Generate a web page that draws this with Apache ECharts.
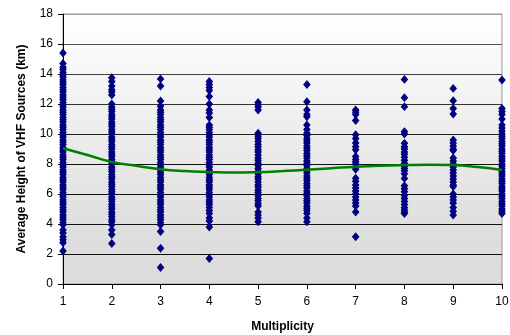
<!DOCTYPE html>
<html>
<head>
<meta charset="utf-8">
<script src="https://cdn.jsdelivr.net/npm/echarts@6/dist/echarts.min.js"></script>
<style>
  html, body { margin: 0; padding: 0; background: #fff; }
  #chart { width: 510px; height: 335px; }
</style>
</head>
<body>
<div id="chart"></div>
<script>
// multiplicity categories (x)
const multiplicity = [1, 2, 3, 4, 5, 6, 7, 8, 9, 10];

// average VHF source heights (km), read column by column
const h1 = [15.4, 14.7, 14.45, 14.3, 14.1, 13.95, 13.8, 13.6, 13.45, 13.3, 13.1, 12.95, 12.8, 12.6, 12.45, 12.3, 12.1, 11.95, 11.8, 11.6, 11.45, 11.3, 11.1, 10.95, 10.8, 10.6, 10.45, 10.3, 10.1, 9.95, 9.8, 9.6, 9.45, 9.3, 9.1, 8.95, 8.8, 8.6, 8.45, 8.3, 8.1, 7.95, 7.8, 7.6, 7.45, 7.3, 7.1, 6.95, 6.8, 6.6, 6.45, 6.3, 6.1, 5.95, 5.8, 5.6, 5.45, 5.3, 5.1, 4.95, 4.8, 4.6, 4.45, 4.3, 4.1, 3.95, 3.6, 3.4, 3.15, 2.95, 2.75, 2.2];
const h2 = [13.75, 13.5, 13.2, 12.95, 12.8, 12.6, 12.0, 11.8, 11.65, 11.5, 11.3, 11.15, 11.0, 10.8, 10.65, 10.5, 10.3, 10.15, 10.0, 9.8, 9.65, 9.5, 9.3, 9.15, 9.0, 8.8, 8.65, 8.5, 8.3, 8.15, 8.0, 7.8, 7.65, 7.5, 7.3, 7.15, 7.0, 6.8, 6.65, 6.5, 6.3, 6.15, 6.0, 5.8, 5.65, 5.5, 5.3, 5.15, 5.0, 4.8, 4.65, 4.5, 4.3, 4.15, 3.95, 3.6, 3.3, 2.7];
const h3 = [13.67, 13.2, 12.2, 11.85, 11.6, 11.45, 11.3, 11.1, 10.95, 10.8, 10.6, 10.45, 10.3, 10.1, 9.95, 9.8, 9.6, 9.45, 9.3, 9.1, 8.95, 8.8, 8.6, 8.45, 8.3, 8.1, 7.95, 7.8, 7.6, 7.45, 7.3, 7.1, 6.95, 6.8, 6.6, 6.45, 6.3, 6.1, 5.95, 5.8, 5.6, 5.45, 5.3, 5.1, 4.95, 4.8, 4.6, 4.45, 4.3, 4.1, 3.95, 3.5, 2.38, 1.1];
const h4 = [13.5, 13.3, 13.1, 12.9, 12.5, 12.0, 11.6, 11.4, 11.1, 10.6, 10.45, 10.3, 10.1, 9.95, 9.8, 9.6, 9.45, 9.3, 9.1, 8.95, 8.8, 8.6, 8.45, 8.3, 8.1, 7.95, 7.8, 7.6, 7.45, 7.3, 7.1, 6.95, 6.8, 6.6, 6.45, 6.3, 6.1, 5.95, 5.8, 5.6, 5.45, 5.3, 5.1, 4.9, 4.7, 4.4, 4.2, 3.8, 1.7];
const h5 = [12.1, 11.95, 11.8, 11.6, 10.05, 9.85, 9.7, 9.5, 9.3, 9.15, 8.95, 8.8, 8.6, 8.4, 8.25, 8.05, 7.9, 7.7, 7.5, 7.35, 7.15, 7.0, 6.8, 6.6, 6.45, 6.25, 6.1, 5.9, 5.7, 5.55, 5.35, 5.2, 4.8, 4.6, 4.4, 4.15];
const h6 = [13.3, 12.15, 11.6, 11.3, 11.15, 10.6, 10.3, 10.05, 9.9, 9.7, 9.55, 9.4, 9.2, 9.05, 8.9, 8.7, 8.55, 8.4, 8.2, 8.05, 7.9, 7.7, 7.55, 7.4, 7.2, 7.05, 6.9, 6.7, 6.55, 6.4, 6.2, 6.05, 5.9, 5.7, 5.55, 5.4, 5.2, 5.05, 4.9, 4.7, 4.4, 4.15];
const h7 = [11.6, 11.45, 11.3, 10.9, 9.95, 9.7, 9.4, 9.15, 8.95, 8.5, 8.3, 8.15, 8.0, 7.8, 7.65, 7.05, 6.85, 6.6, 6.4, 6.2, 6.0, 5.8, 5.6, 5.4, 5.2, 4.8, 3.15];
const h8 = [13.64, 12.42, 11.82, 10.16, 10.0, 9.38, 9.15, 9.0, 8.8, 8.65, 8.45, 8.25, 8.05, 7.85, 7.7, 7.55, 7.35, 7.04, 6.55, 6.35, 6.15, 5.9, 5.7, 5.5, 5.3, 5.1, 4.95, 4.8, 4.7];
const h9 = [13.04, 12.22, 11.7, 11.33, 9.6, 9.4, 9.2, 9.0, 8.9, 8.4, 8.2, 8.0, 7.8, 7.6, 7.4, 7.2, 7.0, 6.8, 6.6, 6.5, 6.0, 5.8, 5.6, 5.4, 5.1, 4.85, 4.6];
const h10 = [13.6, 11.7, 11.5, 11.3, 11.0, 10.6, 10.4, 10.2, 10.0, 9.85, 9.7, 9.5, 9.35, 9.2, 9.0, 8.85, 8.7, 8.5, 8.35, 8.2, 8.0, 7.85, 7.7, 7.5, 7.35, 7.2, 7.0, 6.85, 6.7, 6.5, 6.35, 6.2, 6.0, 5.85, 5.7, 5.5, 5.35, 5.2, 5.0, 4.85, 4.7];

// green trend curve
const trendX = [1, 1.5, 2, 2.5, 3, 3.5, 4, 4.5, 5, 5.5, 6, 6.5, 7, 7.5, 8, 8.5, 9, 9.5, 10];
const trendY = [9.05, 8.6, 8.13, 7.88, 7.65, 7.53, 7.47, 7.43, 7.46, 7.53, 7.62, 7.72, 7.82, 7.89, 7.93, 7.95, 7.93, 7.8, 7.6];

const yTicks = [0, 2, 4, 6, 8, 10, 12, 14, 16, 18];

const columns = [h1, h2, h3, h4, h5, h6, h7, h8, h9, h10];
const points = columns.flatMap((col, i) => col.map(v => [multiplicity[i], v]));
const trend = trendX.map((x, i) => [x, trendY[i]]);

const chart = echarts.init(document.getElementById('chart'), null, { renderer: 'canvas' });
const font = 'Liberation Sans, Arial, sans-serif';

chart.setOption({
  animation: false,
  backgroundColor: '#fff',
  grid: {
    left: 63, right: 8, top: 14, bottom: 51,
    outerBoundsMode: 'none',
    show: true, borderColor: '#999', borderWidth: 1,
    backgroundColor: new echarts.graphic.LinearGradient(0, 0, 0, 1, [
      { offset: 0, color: '#ffffff' },
      { offset: 0.8, color: '#dedede' },
      { offset: 1, color: '#dcdcdc' },
    ]),
  },
  xAxis: {
    type: 'value', min: 1, max: 10, interval: 1,
    name: 'Multiplicity', nameLocation: 'middle', nameGap: 37,
    nameTextStyle: { color: '#000', fontSize: 12, fontWeight: 'bold', fontFamily: font },
    axisLine: { show: true, onZero: false, lineStyle: { color: '#000', width: 1 } },
    axisTick: { show: true, length: 5, lineStyle: { color: '#000' } },
    axisLabel: { color: '#000', fontSize: 12, fontFamily: font, margin: 12 },
    splitLine: { show: false },
  },
  yAxis: {
    type: 'value', min: yTicks[0], max: yTicks[yTicks.length - 1], interval: 2,
    name: 'Average Height of VHF Sources (km)', nameLocation: 'middle', nameGap: 35,
    nameTextStyle: { color: '#000', fontSize: 12, fontWeight: 'bold', fontFamily: font },
    axisLine: { show: true, lineStyle: { color: '#000', width: 1 } },
    axisTick: { show: true, length: 5, lineStyle: { color: '#000' } },
    axisLabel: { color: '#000', fontSize: 12, fontFamily: font, margin: 10 },
    splitLine: {
      show: true,
      lineStyle: { color: ['#000', '#111', '#111', '#111', '#111', '#222', '#333', '#444', '#555', '#999'], width: 1 },
    },
  },
  series: [
    {
      type: 'scatter',
      data: points,
      symbol: 'diamond',
      symbolSize: [6, 7],
      itemStyle: { color: '#000080', borderColor: '#000080', borderWidth: 1.2, opacity: 1 },
      z: 2,
    },
    {
      type: 'line',
      data: trend,
      smooth: true,
      showSymbol: false,
      lineStyle: { color: '#008000', width: 2.5 },
      z: 3,
    },
  ],
});
</script>
</body>
</html>
